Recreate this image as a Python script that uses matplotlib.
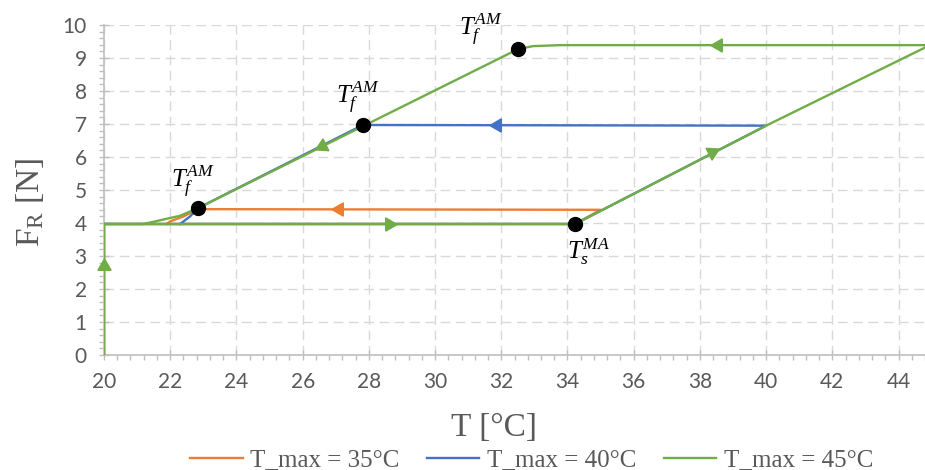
import numpy as np
import matplotlib
matplotlib.use('Agg')
import matplotlib.pyplot as plt
from matplotlib.ticker import MultipleLocator

plt.rcParams['mathtext.fontset'] = 'custom'
plt.rcParams['mathtext.rm'] = 'Liberation Serif'
plt.rcParams['mathtext.it'] = 'Liberation Serif:italic'

# ---- data ----
# T_max = 35 C (heating, plateau back, cooling)
T35 = [20, 20, 34.23, 35.0, 22.84, 22.4, 22.0, 21.9]
F35 = [0, 3.97, 3.97, 4.40, 4.42, 4.2, 4.05, 3.97]
# T_max = 40 C
T40 = [20, 20, 34.23, 40.0, 27.82, 22.84, 22.6, 22.3]
F40 = [0, 3.97, 3.97, 6.95, 6.97, 4.45, 4.2, 3.97]
# T_max = 45 C
T45 = [20, 20, 34.23, 40.0, 44.95, 33.78, 32.96, 32.51, 22.84, 22.3, 21.2, 20]
F45 = [0, 3.97, 3.97, 6.95, 9.39, 9.39, 9.36, 9.27, 4.45, 4.22, 3.97, 3.97]

# direction arrows on the curves: (T, F, dT, dF, colour key)
arrow_T = [20.0, 28.6, 38.37, 38.55, 26.6, 27.1, 31.87]
arrow_F = [2.7, 3.97, 6.14, 9.39, 6.33, 4.42, 6.97]
arrow_dT = [0, 1, 1, -1, -1, -1, -1]
arrow_dF = [1, 0, 0.51, 0, -0.499, 0, 0]
arrow_series = ['45', '45', '45', '45', '45', '35', '40']

# transformation points
pt_T = [22.84, 27.82, 32.51, 34.23]
pt_F = [4.45, 6.97, 9.27, 3.97]
pt_labels = [r'$T_f^{AM}$', r'$T_f^{AM}$', r'$T_f^{AM}$', r'$T_s^{MA}$']
lab_T = [22.69, 27.67, 31.39, 34.62]
lab_F = [5.24, 7.79, 9.85, 3.12]

colors = {'35': '#ED7D31', '40': '#4472C4', '45': '#70AD47'}
grey = '#595959'
axis_grey = '#BFBFBF'

fig = plt.figure(figsize=(9.25, 4.7), dpi=100)
ax = fig.add_axes([104/925, 1-355/470, 821/925, 330/470])

ax.plot(T35, F35, color=colors['35'], lw=1.7, label='T_max = 35°C', zorder=3)
ax.plot(T40, F40, color=colors['40'], lw=1.7, label='T_max = 40°C', zorder=3)
ax.plot(T45, F45, color=colors['45'], lw=1.7, label='T_max = 45°C', zorder=4)

ax.set_xlim(20, 44.8)
ax.set_ylim(0, 10)

# arrow heads as rotated triangle markers
fig.canvas.draw()
for t, f, dt, df, s in zip(arrow_T, arrow_F, arrow_dT, arrow_dF, arrow_series):
    p0 = ax.transData.transform((t, f))
    p1 = ax.transData.transform((t + dt * 0.1, f + df * 0.1))
    ang = np.degrees(np.arctan2(p1[1] - p0[1], p1[0] - p0[0]))
    ax.plot([t], [f], marker=(3, 0, ang - 90), markersize=11,
            color=colors[s], linestyle='none', zorder=5, clip_on=False)

ax.plot(pt_T, pt_F, 'o', color='black', markersize=10, zorder=6)
for lt, lf, txt in zip(lab_T, lab_F, pt_labels):
    ax.text(lt, lf, txt, fontsize=18, ha='center', va='center', color='black', zorder=7)

# axes styling
ax.xaxis.set_major_locator(MultipleLocator(2))
ax.xaxis.set_minor_locator(MultipleLocator(0.4))
ax.yaxis.set_major_locator(MultipleLocator(1))
ax.yaxis.set_minor_locator(MultipleLocator(0.2))
ax.grid(True, which='major', color='#D9D9D9', linestyle=(0, (7, 4)), lw=1)
ax.set_axisbelow(True)
for side in ['top', 'right']:
    ax.spines[side].set_visible(False)
for side in ['left', 'bottom']:
    ax.spines[side].set_color(axis_grey)
    ax.spines[side].set_linewidth(1.2)
ax.tick_params(which='major', direction='inout', length=7, width=1, color=axis_grey,
               labelsize=15, labelcolor=grey, pad=9)
ax.tick_params(which='minor', direction='out', length=3.5, width=1, color=axis_grey)
for lbl in ax.get_xticklabels() + ax.get_yticklabels():
    lbl.set_family('Lato')

ax.set_xlabel('T [°C]', family='Liberation Serif', fontsize=24, color=grey, va='center')
ax.xaxis.set_label_coords((494-104)/821, -(428-355)/330)
ax.set_ylabel(r'$\mathrm{F_R}$ [N]', family='Liberation Serif', fontsize=24, color=grey, va='center')
ax.yaxis.set_label_coords(-(104-30)/821, (355-202)/330)

leg = fig.legend(loc='center left', bbox_to_anchor=(190/925, 1-460/470), ncol=3, frameon=False,
                 borderpad=0, borderaxespad=0, handlelength=2.1, handletextpad=0.3,
                 columnspacing=1.1, prop={'family': 'Liberation Serif', 'size': 18})
for txt in leg.get_texts():
    txt.set_color(grey)

fig.savefig('out.png', dpi=100)
